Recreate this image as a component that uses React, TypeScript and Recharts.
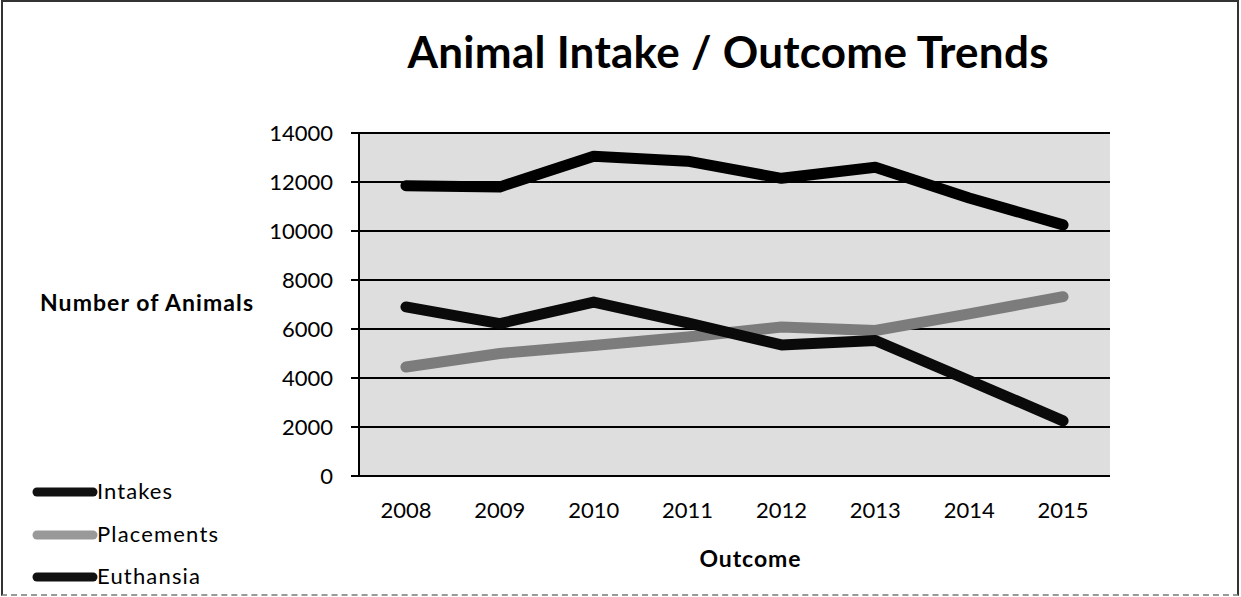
import { LineChart, Line, XAxis, YAxis, CartesianGrid } from 'recharts';

const YEARS = ['2008', '2009', '2010', '2011', '2012', '2013', '2014', '2015'];
const INTAKES = [11850, 11800, 13050, 12850, 12150, 12600, 11350, 10250];
const PLACEMENTS = [4450, 5000, 5330, 5670, 6080, 5940, 6620, 7320];
const EUTHANSIA = [6900, 6220, 7100, 6250, 5350, 5530, 3900, 2250];

const Y_TICKS = [0, 2000, 4000, 6000, 8000, 10000, 12000, 14000];
// boundaries between the year bands, where the x tick marks sit
const EDGE_TICKS = [0, 1, 2, 3, 4, 5, 6, 7, 8];

const SERIES = [
  { key: 'Intakes', color: '#000000', legendColor: '#111111', textWidth: 75 },
  { key: 'Placements', color: '#7c7c7c', legendColor: '#999999', textWidth: 121 },
  { key: 'Euthansia', color: '#0a0a0a', legendColor: '#111111', textWidth: 103 },
];

const FONT = 'Lato, "Liberation Sans", sans-serif';
const LEGEND_ROWS = [492, 535, 577];

export default function App() {
  const data = YEARS.map((year, i) => ({
    year,
    Intakes: INTAKES[i],
    Placements: PLACEMENTS[i],
    Euthansia: EUTHANSIA[i],
  }));

  return (
    <div style={{ position: 'absolute', left: 0, top: 0, width: 1241, height: 597, background: '#fff', fontFamily: FONT }}>
      <div
        style={{
          position: 'absolute',
          left: 1,
          top: 0,
          width: 1238,
          height: 596,
          boxSizing: 'border-box',
          borderTop: '2px solid #333',
          borderLeft: '2px solid #333',
          borderRight: '2px solid #333',
          borderBottom: '2px dashed #999',
        }}
      />
      <div style={{ position: 'absolute', left: 0, top: 0 }}>
        <LineChart width={1241} height={597} data={data} margin={{ top: 133, right: 131, bottom: 90, left: 299 }}>
          <CartesianGrid vertical={false} stroke="#000" strokeWidth={2} fill="#dedede" fillOpacity={1} />
          {/* default-id axis sits next to the plot: axis line and tick marks between years */}
          <XAxis
            type="number"
            domain={[0, 8]}
            ticks={EDGE_TICKS}
            allowDataOverflow
            tick={false}
            axisLine={{ stroke: '#000', strokeWidth: 2 }}
            tickLine={{ stroke: '#000', strokeWidth: 2 }}
            tickSize={8}
            height={1}
          />
          <XAxis
            xAxisId="years"
            dataKey="year"
            scale="band"
            interval={0}
            tickLine={false}
            axisLine={false}
            tickSize={8}
            tickMargin={17}
            height={30}
            tick={{ fill: '#000', fontSize: 22, fontFamily: FONT }}
          />
          <YAxis
            domain={[0, 14000]}
            ticks={Y_TICKS}
            interval={0}
            width={60}
            axisLine={{ stroke: '#000', strokeWidth: 2 }}
            tickLine={{ stroke: '#000', strokeWidth: 2 }}
            tickSize={8}
            tickMargin={18}
            tick={{ fill: '#000', fontSize: 22, fontFamily: FONT }}
          />
          {SERIES.map((s) => (
            <Line
              key={s.key}
              xAxisId="years"
              type="linear"
              dataKey={s.key}
              stroke={s.color}
              strokeWidth={11}
              strokeLinecap="round"
              strokeLinejoin="round"
              dot={false}
              activeDot={false}
              isAnimationActive={false}
            />
          ))}
        </LineChart>
      </div>
      <svg width={1241} height={597} style={{ position: 'absolute', left: 0, top: 0, pointerEvents: 'none' }}>
        <text x={728} y={68} textAnchor="middle" fontSize={44} fontWeight={700} fontFamily={FONT} fill="#000" textLength={641} lengthAdjust="spacing">
          Animal Intake / Outcome Trends
        </text>
        <text x={40} y={311} fontSize={23} fontWeight={700} fontFamily={FONT} fill="#000" textLength={213} lengthAdjust="spacing">
          Number of Animals
        </text>
        <text x={750} y={567} textAnchor="middle" fontSize={23} fontWeight={700} fontFamily={FONT} fill="#000" textLength={101} lengthAdjust="spacing">
          Outcome
        </text>
        {SERIES.map((s, i) => (
          <g key={s.key}>
            <line
              x1={37}
              x2={93}
              y1={LEGEND_ROWS[i]}
              y2={LEGEND_ROWS[i]}
              stroke={s.legendColor}
              strokeWidth={9}
              strokeLinecap="round"
            />
            <text x={97} y={LEGEND_ROWS[i] + 7} fontSize={22} fontFamily={FONT} fill="#000" textLength={s.textWidth} lengthAdjust="spacing">
              {s.key}
            </text>
          </g>
        ))}
      </svg>
    </div>
  );
}
